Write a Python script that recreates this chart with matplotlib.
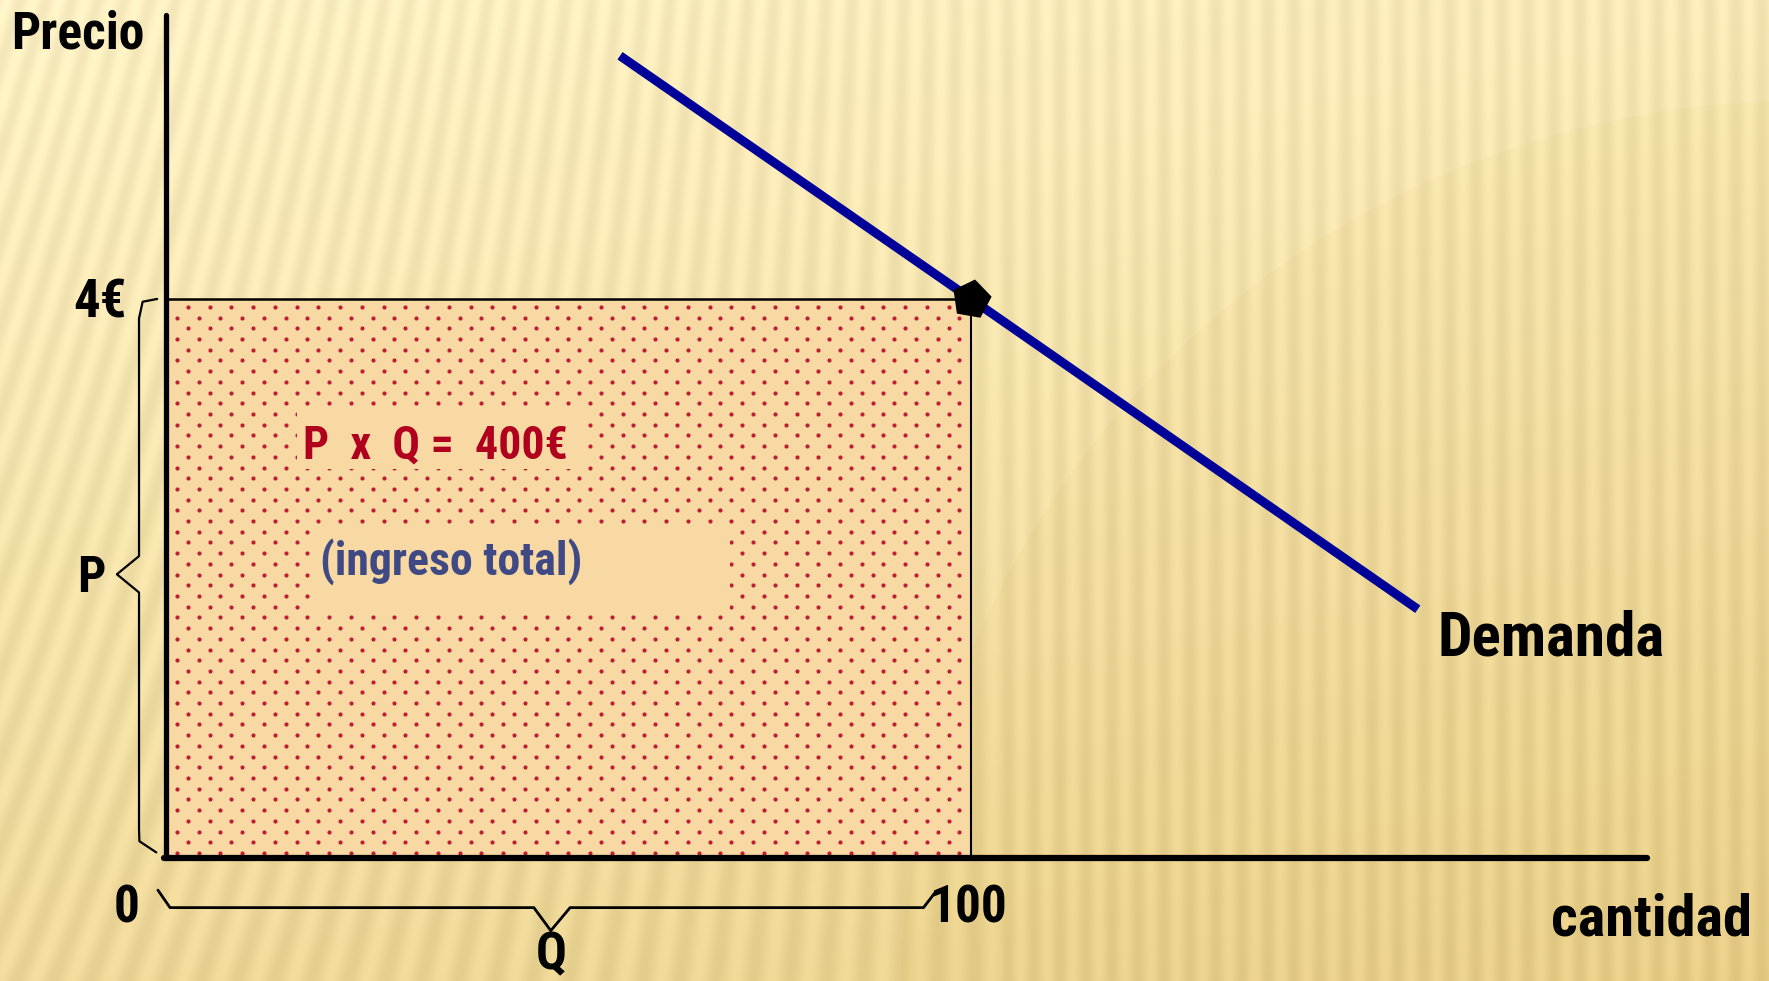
import numpy as np
import matplotlib
matplotlib.use("Agg")
import matplotlib.pyplot as plt
from matplotlib.patches import Rectangle
from matplotlib.path import Path
from matplotlib.patches import PathPatch

plt.rcParams['font.family'] = ['Roboto Condensed', 'Liberation Sans', 'DejaVu Sans']
plt.rcParams['font.weight'] = 'bold'

# punto de equilibrio: precio y cantidad
precio = 4
cantidad = 100
ingreso_total = precio * cantidad

# recta de demanda (cantidad, precio)
demanda_q = [56.4, 100, 155.5]
demanda_p = [5.74, 4, 1.78]

W, H = 1769, 981
xmin, xmax = -20.62, 199.13
ymin, ymax = -0.88, 6.139

fig = plt.figure(figsize=(W / 100, H / 100), dpi=100)
ax = fig.add_axes([0, 0, 1, 1])
ax.set_xlim(xmin, xmax)
ax.set_ylim(ymin, ymax)
ax.axis('off')

# fondo: degradado dorado con franjas verticales suaves
yy, xx = np.mgrid[0:H, 0:W].astype(float)
t = 0.75 * yy / H + 0.25 * xx / W
circ = np.hypot(xx - 1800, yy - 1000) < 900
t = t + 0.10 * circ
light = np.array([252, 240, 195]) / 255
dark = np.array([232, 207, 138]) / 255
img = light[None, None, :] * (1 - t[..., None]) + dark[None, None, :] * t[..., None]
slant = np.clip(0.3 * (1 - xx / 1000), 0, None)
stripes = np.sin(2 * np.pi * (xx + slant * yy) / 26.0)
img = img + 0.028 * stripes[..., None]
img = np.clip(img, 0, 1)
ax.imshow(img, extent=[xmin, xmax, ymin, ymax], aspect='auto', zorder=0,
          interpolation='bilinear')

# area del ingreso total
relleno = '#F8D8A3'
ax.add_patch(Rectangle((0, 0), cantidad, precio, facecolor=relleno,
                       edgecolor='none', zorder=1))
# trama de puntos rojos
filas = np.arange(3.943, 0.0, -0.0766)
px, py = [], []
for i, f in enumerate(filas):
    inicio = 2.73 if i % 2 == 0 else 1.37
    cols = np.arange(inicio, cantidad - 0.5, 2.70)
    px.extend(cols)
    py.extend([f] * len(cols))
ax.scatter(px, py, s=9, color='#C01C36', linewidths=0, zorder=2)

# recuadros de texto sin trama
ax.add_patch(Rectangle((16.3, 2.78), 35.7, 0.44, facecolor=relleno,
                       edgecolor='none', zorder=3))
ax.add_patch(Rectangle((17.9, 1.76), 52.2, 0.63, facecolor=relleno,
                       edgecolor='none', zorder=3))

ax.plot([0, cantidad], [precio, precio], color='black', lw=1.8, zorder=4)
ax.plot([cantidad, cantidad], [0, precio], color='black', lw=1.5, zorder=4)

# ejes
ax.plot([0, 0], [0, 6.03], color='black', lw=3.8, solid_capstyle='round', zorder=5)
ax.plot([-0.3, 184], [0, 0], color='black', lw=4.5, solid_capstyle='round', zorder=5)

# demanda y punto
ax.plot(demanda_q, demanda_p, color='#000099', lw=6.5, solid_capstyle='butt', zorder=6)
ax.plot([cantidad], [precio], marker=(5, 0, -10), ms=28, color='black', zorder=7)

# llaves
llave_p = Path([(-1.1, 4.0), (-2.9, 3.98), (-3.35, 3.86), (-3.35, 2.16),
                (-6.1, 2.03), (-3.35, 1.90), (-3.35, 0.2), (-3.3, 0.12), (-1.2, 0.04)])
ax.add_patch(PathPatch(llave_p, facecolor='none', edgecolor='black', lw=1.6,
                       zorder=5, capstyle='round', joinstyle='round'))
llave_q = Path([(-1.0, -0.23), (0.5, -0.355), (45.7, -0.355), (47.8, -0.52),
                (50.2, -0.355), (94.1, -0.355), (95.5, -0.25)])
ax.add_patch(PathPatch(llave_q, facecolor='none', edgecolor='black', lw=2.0,
                       zorder=5, capstyle='round', joinstyle='round'))

# textos
ax.text(-19.25, 5.79, 'Precio', fontsize=37, color='black', va='baseline', ha='left')
ax.text(-4.9, 3.87, '4€', fontsize=38, color='black', va='baseline', ha='right')
ax.text(-7.5, 1.90, 'P', fontsize=36, color='black', va='baseline', ha='right')
ax.text(-4.84, -0.458, '0', fontsize=37, color='black', va='baseline', ha='center')
ax.text(cantidad - 0.4, -0.458, f'{cantidad}', fontsize=37, color='black',
        va='baseline', ha='center')
ax.text(47.8, -0.80, 'Q', fontsize=37, color='black', va='baseline', ha='center')
ax.text(158.0, 1.45, 'Demanda', fontsize=44, color='black', va='baseline', ha='left')
ax.text(197.0, -0.551, 'cantidad', fontsize=42, color='black', va='baseline', ha='right')
ax.text(17.0, 2.86, f'P  x  Q =  {ingreso_total}€', fontsize=33, color='#B0001E',
        va='baseline', ha='left', zorder=8)
ax.text(19.1, 2.025, '(ingreso total)', fontsize=33, color='#3F4A85',
        va='baseline', ha='left', zorder=8)

fig.savefig('out.png', dpi=100)
